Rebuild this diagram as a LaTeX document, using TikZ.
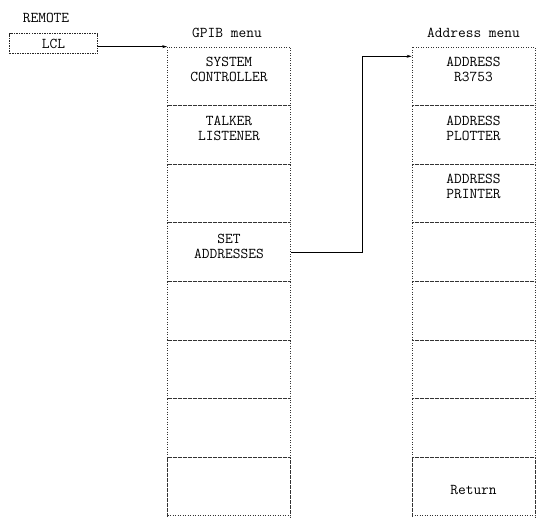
\documentclass[tikz,border=0pt]{standalone}
\usetikzlibrary{positioning, arrows.meta}

\tikzset{
  menubox/.style={draw=black!80, dash pattern=on 0.7pt off 1.8pt, line width=0.7pt, minimum width=123pt, minimum height=58.6pt, inner sep=0pt},
  menutext/.style={font=\ttfamily\fontsize{15}{15}\selectfont, align=center, inner sep=0pt},
  conn/.style={draw=black, line width=0.7pt, -{Stealth[length=5pt,width=3pt]}}
}

\begin{document}
\begin{tikzpicture}[x=1pt, y=-1pt]
\useasboundingbox (0,0) rectangle (540,517);
\clip (0,0) rectangle (540,517);

% remote key
\node[menutext] (remote) at (46,18) {REMOTE};
\node[menutext, draw=black!85, line width=0.6pt, dash pattern=on 1.5pt off 1pt, minimum width=88pt, minimum height=20pt] (lcl) at (53.5,43.5) {LCL};

% GPIB menu
\node[menutext] (gpibhead) at (227,33) {GPIB menu};
\foreach \i in {1,...,8}
  \node[menubox] (g\i) at (229,{47+58.6*(\i-0.5)}) {};
\node[menubox, minimum height=90pt] (g9) at (229,502.2) {};
\node[menutext] (gsys) at ([yshift=7pt]g1.center) {SYSTEM\\CONTROLLER};
\node[menutext] (gtalk) at ([yshift=7pt]g2.center) {TALKER\\LISTENER};
\node[menutext] (gset) at ([yshift=6pt]g4.center) {SET\\ADDRESSES};

% Address menu
\node[menutext] (addrhead) at (473.5,33) {Address menu};
\foreach \i in {1,...,8}
  \node[menubox] (a\i) at (473.5,{47+58.6*(\i-0.5)}) {};
\node[menubox, minimum height=90pt] (a9) at (473.5,502.2) {};
\node[menutext] (ar3753) at ([yshift=7pt]a1.center) {ADDRESS\\R3753};
\node[menutext] (aplot) at ([yshift=7pt]a2.center) {ADDRESS\\PLOTTER};
\node[menutext] (aprint) at ([yshift=7pt]a3.center) {ADDRESS\\PRINTER};
\node[menutext] (aret) at ([yshift=-33pt]a9.north) {Return};

% links
\draw[conn] (g1.north west -| lcl.east) -- (g1.north west);
\draw[conn] (g4.east) -- ++(71,0) |- ([yshift=20pt]a1.west);
\end{tikzpicture}
\end{document}
